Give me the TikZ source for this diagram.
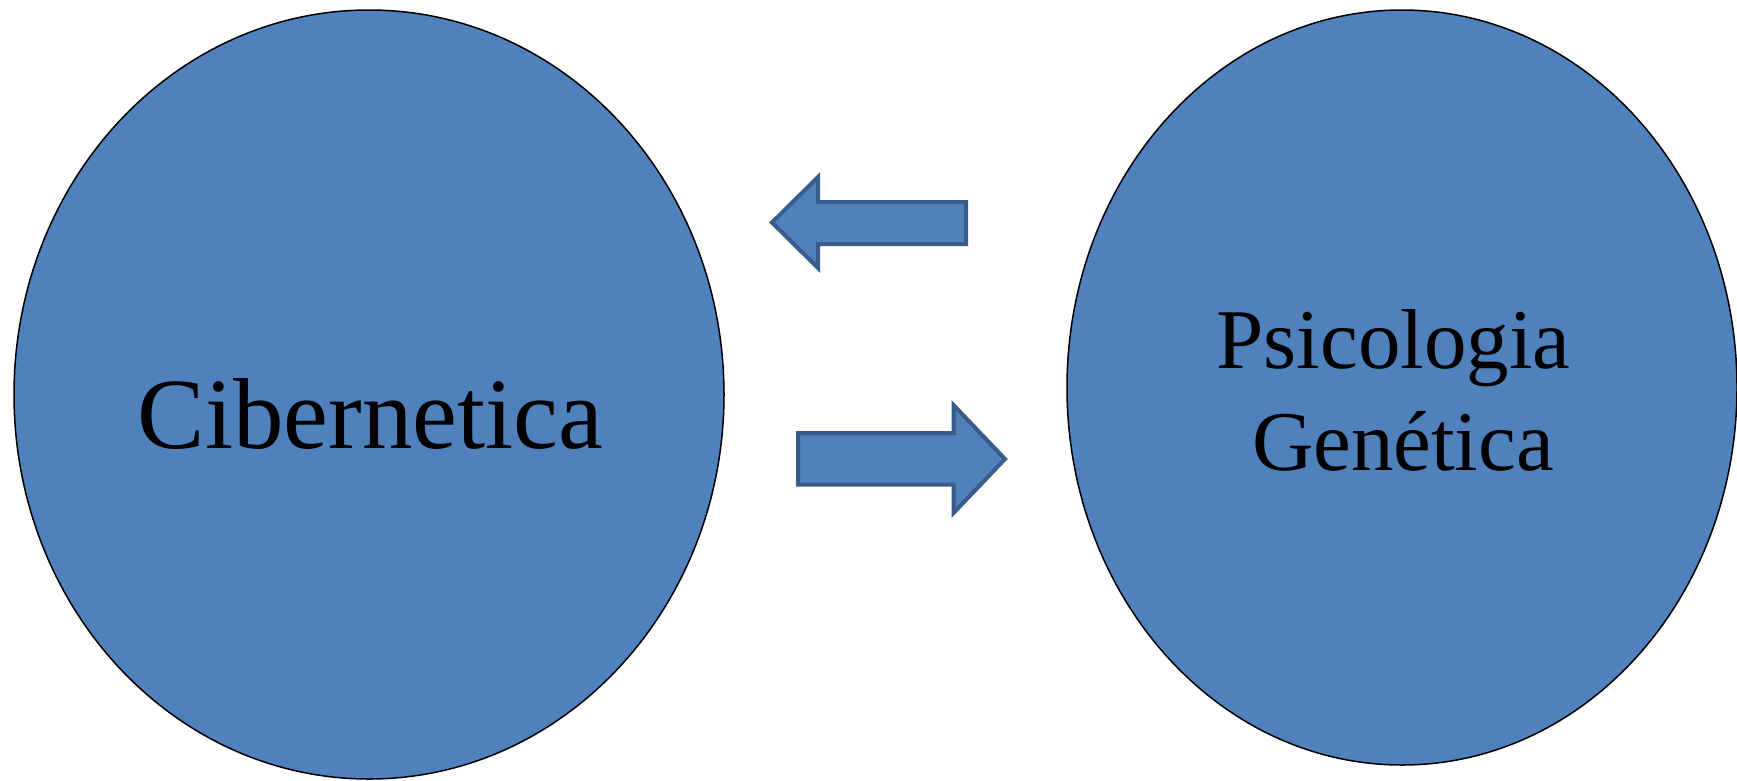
\documentclass[tikz,border=0pt]{standalone}
\usepackage{fontspec}
\setmainfont{Liberation Serif}
\usetikzlibrary{shapes.geometric}
\definecolor{blobfill}{HTML}{4F81BD}
\definecolor{arrowline}{HTML}{385D8A}
\tikzset{
  blob/.style={ellipse, draw=black, line width=1.5pt, fill=blobfill, inner sep=0pt},
  blockarrow/.style={draw=arrowline, line width=4pt, fill=blobfill, line join=miter},
  bigtext/.style={anchor=base, inner sep=0pt, font=\fontsize{101}{121}\selectfont},
  midtext/.style={anchor=base, inner sep=0pt, font=\fontsize{85}{102}\selectfont}
}
\begin{document}
\begin{tikzpicture}[x=1pt,y=-1pt]
\useasboundingbox (0,0) rectangle (1737,780);
\node[blob, minimum width=710pt, minimum height=769pt] (cib) at (369,394.5) {};
\node[blob, minimum width=670pt, minimum height=755pt] (psi) at (1402,387.5) {};
\node[bigtext] (cibt) at (370.5,448) {Cibernetica};
\node[midtext] (psit1) at (1393.5,368) {Psicologia};
\node[midtext] (psit2) at (1403,470) {Genética};
\draw[blockarrow] (772,222.5) -- (818,177) -- (818,202) -- (966,202) -- (966,244) -- (818,244) -- (818,268) -- cycle;
\draw[blockarrow] (798,433) -- (953.5,433) -- (953.5,405) -- (1005,459) -- (953.5,513) -- (953.5,484.5) -- (798,484.5) -- cycle;
\end{tikzpicture}
\end{document}
